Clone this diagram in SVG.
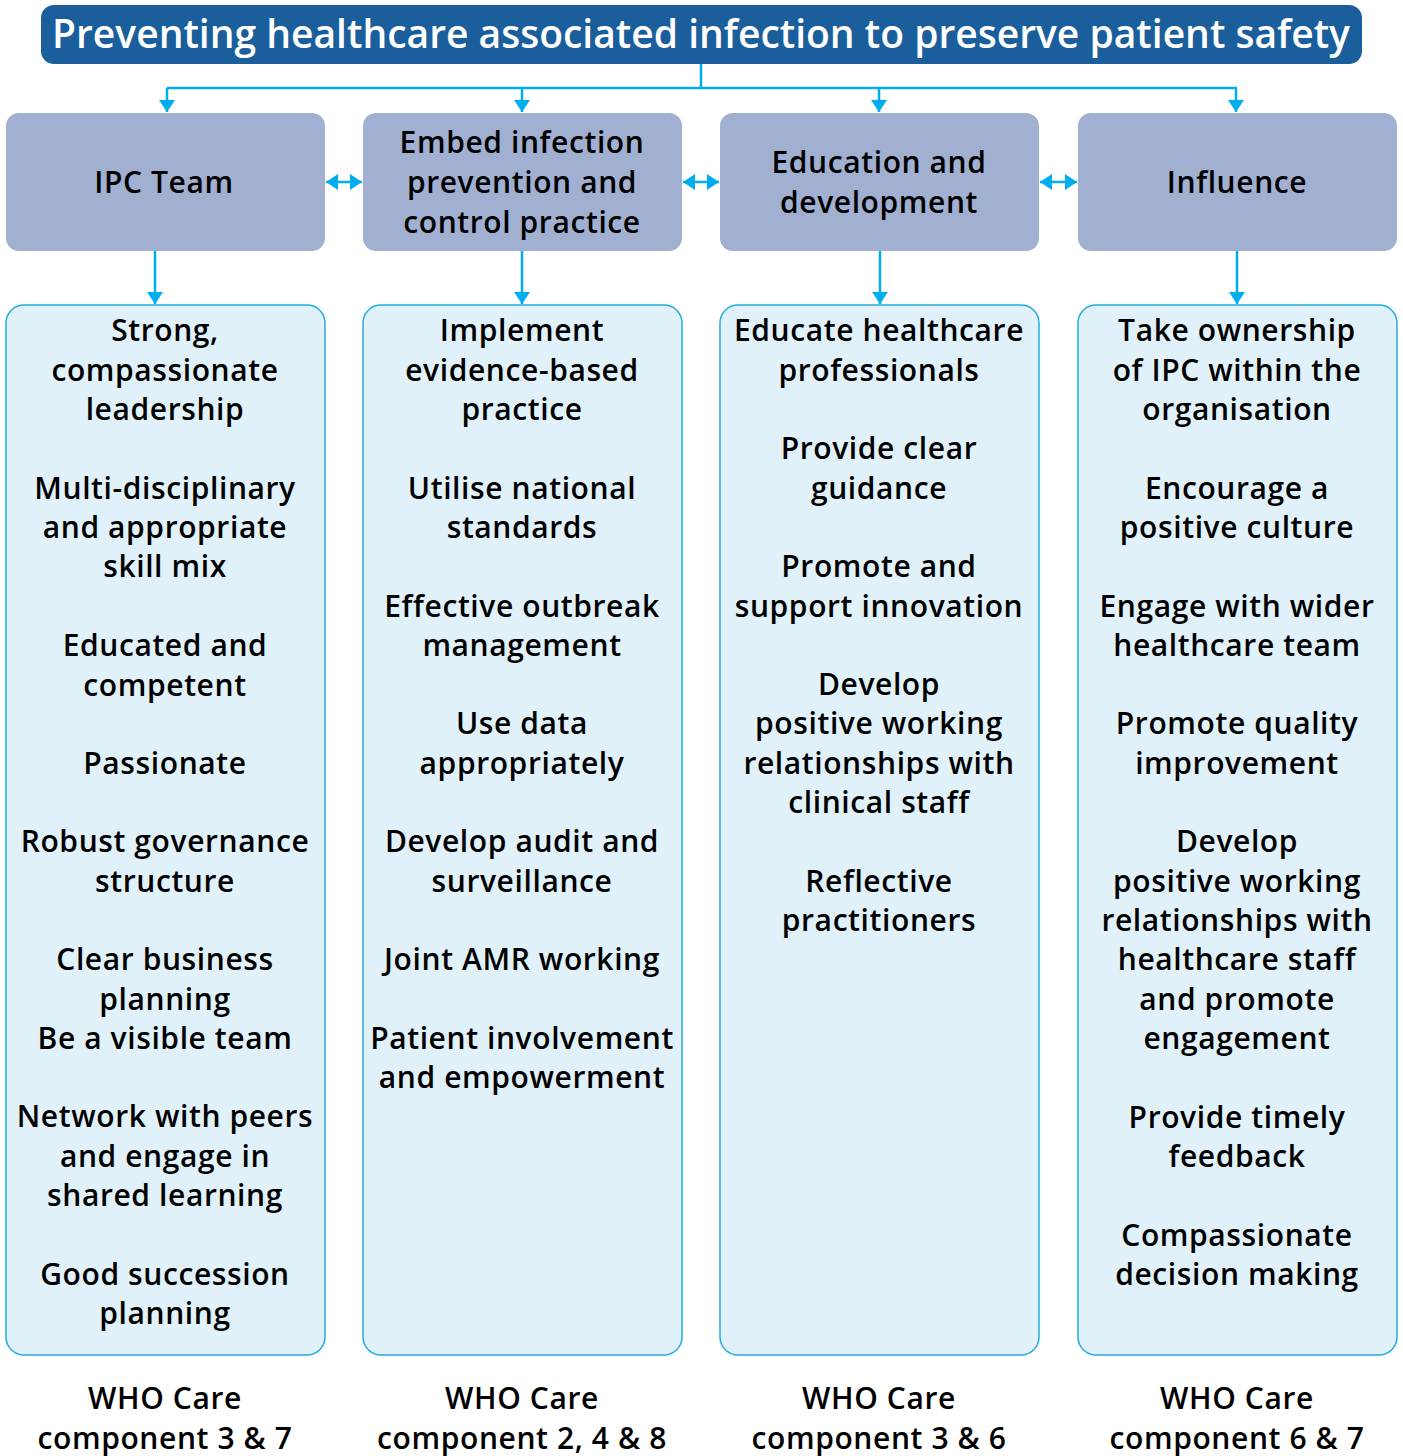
<svg xmlns="http://www.w3.org/2000/svg" width="1403" height="1456" viewBox="0 0 1403 1456">
<style>
.title{font-family:"Open Sans",Lato,"Liberation Sans",sans-serif;font-size:39px;font-weight:600;fill:#ffffff;text-anchor:middle}
.head{fill:#a1afd1}
.list{fill:#e1f1fa;stroke:#27aae1;stroke-width:1.5}
.t{font-family:"Open Sans",Lato,"Liberation Sans",sans-serif;font-size:30px;font-weight:600;letter-spacing:0.6px;fill:#000000;text-anchor:middle}
.conn{fill:none;stroke:#00aeef;stroke-width:2.5}
</style>
<defs>
<marker id="ah" viewBox="0 0 12 16" refX="12" refY="8" markerWidth="12" markerHeight="16" markerUnits="userSpaceOnUse" orient="auto-start-reverse">
<path d="M0,0 L12,8 L0,16 z" fill="#00aeef"/>
</marker>
</defs>
<rect width="1403" height="1456" fill="#ffffff"/>

<g id="title">
<rect x="41" y="5" width="1321" height="59" rx="13" fill="#1b5e9c"/>
<text class="title" x="701" y="48">Preventing healthcare associated infection to preserve patient safety</text>
</g>

<g id="connectors">
<path class="conn" d="M701,64 V88"/>
<path class="conn" d="M167,88 H1237"/>
<path class="conn" d="M167,88 V112" marker-end="url(#ah)"/>
<path class="conn" d="M522,88 V112" marker-end="url(#ah)"/>
<path class="conn" d="M879,88 V112" marker-end="url(#ah)"/>
<path class="conn" d="M1236,88 V112" marker-end="url(#ah)"/>
<path class="conn" d="M326,182 H362" marker-start="url(#ah)" marker-end="url(#ah)"/>
<path class="conn" d="M683,182 H719" marker-start="url(#ah)" marker-end="url(#ah)"/>
<path class="conn" d="M1040,182 H1077" marker-start="url(#ah)" marker-end="url(#ah)"/>
<path class="conn" d="M155,251 V304" marker-end="url(#ah)"/>
<path class="conn" d="M522,251 V304" marker-end="url(#ah)"/>
<path class="conn" d="M880,251 V304" marker-end="url(#ah)"/>
<path class="conn" d="M1237,251 V304" marker-end="url(#ah)"/>
</g>

<g id="ipc-team">
<rect class="head" x="6" y="113" width="319" height="138" rx="13"/>
<text class="t" x="164" y="193">IPC Team</text>
</g>
<g id="embed-ipc-practice">
<rect class="head" x="363" y="113" width="319" height="138" rx="13"/>
<text class="t" x="522" y="153">Embed infection</text>
<text class="t" x="522" y="193">prevention and</text>
<text class="t" x="522" y="233">control practice</text>
</g>
<g id="education-development">
<rect class="head" x="720" y="113" width="319" height="138" rx="13"/>
<text class="t" x="879" y="173">Education and</text>
<text class="t" x="879" y="213">development</text>
</g>
<g id="influence">
<rect class="head" x="1078" y="113" width="319" height="138" rx="13"/>
<text class="t" x="1237" y="193">Influence</text>
</g>

<g id="ipc-team-list">
<rect class="list" x="6" y="305" width="319" height="1050" rx="18"/>
<text class="t" x="165" y="341">Strong,</text>
<text class="t" x="165" y="381">compassionate</text>
<text class="t" x="165" y="420">leadership</text>
<text class="t" x="165" y="499">Multi-disciplinary</text>
<text class="t" x="165" y="538">and appropriate</text>
<text class="t" x="165" y="577">skill mix</text>
<text class="t" x="165" y="656">Educated and</text>
<text class="t" x="165" y="696">competent</text>
<text class="t" x="165" y="774">Passionate</text>
<text class="t" x="165" y="852">Robust governance</text>
<text class="t" x="165" y="892">structure</text>
<text class="t" x="165" y="970">Clear business</text>
<text class="t" x="165" y="1010">planning</text>
<text class="t" x="165" y="1049">Be a visible team</text>
<text class="t" x="165" y="1127">Network with peers</text>
<text class="t" x="165" y="1167">and engage in</text>
<text class="t" x="165" y="1206">shared learning</text>
<text class="t" x="165" y="1285">Good succession</text>
<text class="t" x="165" y="1324">planning</text>
</g>

<g id="embed-list">
<rect class="list" x="363" y="305" width="319" height="1050" rx="18"/>
<text class="t" x="522" y="341">Implement</text>
<text class="t" x="522" y="381">evidence-based</text>
<text class="t" x="522" y="420">practice</text>
<text class="t" x="522" y="499">Utilise national</text>
<text class="t" x="522" y="538">standards</text>
<text class="t" x="522" y="617">Effective outbreak</text>
<text class="t" x="522" y="656">management</text>
<text class="t" x="522" y="734">Use data</text>
<text class="t" x="522" y="774">appropriately</text>
<text class="t" x="522" y="852">Develop audit and</text>
<text class="t" x="522" y="892">surveillance</text>
<text class="t" x="522" y="970">Joint AMR working</text>
<text class="t" x="522" y="1049">Patient involvement</text>
<text class="t" x="522" y="1088">and empowerment</text>
</g>

<g id="education-list">
<rect class="list" x="720" y="305" width="319" height="1050" rx="18"/>
<text class="t" x="879" y="341">Educate healthcare</text>
<text class="t" x="879" y="381">professionals</text>
<text class="t" x="879" y="459">Provide clear</text>
<text class="t" x="879" y="499">guidance</text>
<text class="t" x="879" y="577">Promote and</text>
<text class="t" x="879" y="617">support innovation</text>
<text class="t" x="879" y="695">Develop</text>
<text class="t" x="879" y="734">positive working</text>
<text class="t" x="879" y="774">relationships with</text>
<text class="t" x="879" y="813">clinical staff</text>
<text class="t" x="879" y="892">Reflective</text>
<text class="t" x="879" y="931">practitioners</text>
</g>

<g id="influence-list">
<rect class="list" x="1078" y="305" width="319" height="1050" rx="18"/>
<text class="t" x="1237" y="341">Take ownership</text>
<text class="t" x="1237" y="381">of IPC within the</text>
<text class="t" x="1237" y="420">organisation</text>
<text class="t" x="1237" y="499">Encourage a</text>
<text class="t" x="1237" y="538">positive culture</text>
<text class="t" x="1237" y="617">Engage with wider</text>
<text class="t" x="1237" y="656">healthcare team</text>
<text class="t" x="1237" y="734">Promote quality</text>
<text class="t" x="1237" y="774">improvement</text>
<text class="t" x="1237" y="852">Develop</text>
<text class="t" x="1237" y="892">positive working</text>
<text class="t" x="1237" y="931">relationships with</text>
<text class="t" x="1237" y="970">healthcare staff</text>
<text class="t" x="1237" y="1010">and promote</text>
<text class="t" x="1237" y="1049">engagement</text>
<text class="t" x="1237" y="1128">Provide timely</text>
<text class="t" x="1237" y="1167">feedback</text>
<text class="t" x="1237" y="1246">Compassionate</text>
<text class="t" x="1237" y="1285">decision making</text>
</g>

<g id="who-labels">
<text class="t" x="165" y="1409">WHO Care</text>
<text class="t" x="165" y="1449">component 3 &amp; 7</text>
<text class="t" x="522" y="1409">WHO Care</text>
<text class="t" x="522" y="1449">component 2, 4 &amp; 8</text>
<text class="t" x="879" y="1409">WHO Care</text>
<text class="t" x="879" y="1449">component 3 &amp; 6</text>
<text class="t" x="1237" y="1409">WHO Care</text>
<text class="t" x="1237" y="1449">component 6 &amp; 7</text>
</g>
</svg>
